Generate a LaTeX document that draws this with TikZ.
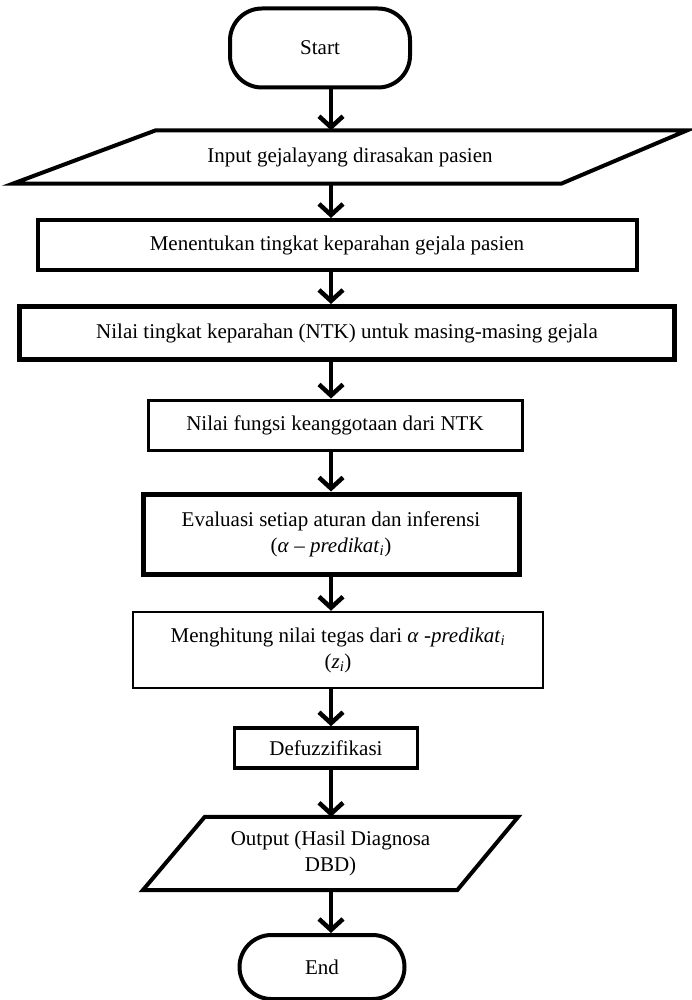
\documentclass[tikz,border=0pt]{standalone}
\usepackage{fontspec}
\setmainfont{Liberation Serif}
\usetikzlibrary{arrows.meta, positioning, calc}

\begin{document}
\begin{tikzpicture}[
    x=1pt, y=-1pt,
    >={Straight Barb[length=11pt, width=24pt]},
    base/.style={font=\fontsize{21}{26}\selectfont, align=center, inner sep=0pt},
    terminal/.style={base, draw, line width=4pt, rounded corners=32pt},
    process/.style={base, draw, line width=4pt},
    io/.style={base},
    ioline/.style={line width=4pt, line join=miter},
    arr/.style={->, line width=4.5pt},
  ]
    \useasboundingbox (0,0) rectangle (692,1000);
    \coordinate (spine) at (331,0);

    % Start
    \node[terminal, minimum width=180pt, minimum height=79pt] (start) at (320,48) {Start};

    % Input
    \node[io, minimum width=674pt, minimum height=53pt] (inp) at (350,157) {Input gejalayang dirasakan pasien};
    \draw[ioline] ($(inp.north west)+(143,0)$) -- (inp.north east) -- ($(inp.south east)+(-126,0)$) -- (inp.south west) -- cycle;

    % Proses
    \node[process, minimum width=599pt, minimum height=50pt] (tingkat) at (337,245) {Menentukan tingkat keparahan gejala pasien};
    \node[process, line width=5pt, minimum width=655pt, minimum height=53pt] (ntk) at (347,333) {Nilai tingkat keparahan (NTK) untuk masing-masing gejala};
    \node[process, line width=3pt, minimum width=374pt, minimum height=50pt] (fungsi) at (335,425) {Nilai fungsi keanggotaan dari NTK};
    \node[process, line width=5pt, minimum width=376pt, minimum height=80pt] (evaluasi) at (331,534) {Evaluasi setiap aturan dan inferensi\\(\textit{α} – \textit{predikat}\textsubscript{\textit{i}})};
    \node[process, line width=2.5pt, minimum width=410pt, minimum height=76pt] (tegas) at (338,650) {Menghitung nilai tegas dari \textit{α} -\textit{predikat}\textsubscript{\textit{i}}\\(\textit{z}\textsubscript{\textit{i}})};
    \node[process, line width=3.5pt, minimum width=183pt, minimum height=40pt] (defuzz) at (326,748) {Defuzzifikasi};

    % Output
    \node[io, minimum width=375pt, minimum height=73pt] (out) at (330.5,853.5) {Output (Hasil Diagnosa\\DBD)};
    \draw[ioline] ($(out.north west)+(62,0)$) -- (out.north east) -- ($(out.south east)+(-61,0)$) -- (out.south west) -- cycle;

    % End
    \node[terminal, minimum width=165pt, minimum height=64pt] (stop) at (322,967) {End};

    % alur
    \draw[arr] (start.south -| spine) -- (inp.north -| spine);
    \draw[arr] (inp.south -| spine) -- (tingkat.north -| spine);
    \draw[arr] (tingkat.south -| spine) -- (ntk.north -| spine);
    \draw[arr] (ntk.south -| spine) -- (fungsi.north -| spine);
    \draw[arr] (fungsi.south -| spine) -- (evaluasi.north -| spine);
    \draw[arr] (evaluasi.south -| spine) -- (tegas.north -| spine);
    \draw[arr] (tegas.south -| spine) -- (defuzz.north -| spine);
    \draw[arr] (defuzz.south -| spine) -- (out.north -| spine);
    \draw[arr] (out.south -| spine) -- (stop.north -| spine);
  \end{tikzpicture}
\end{document}
